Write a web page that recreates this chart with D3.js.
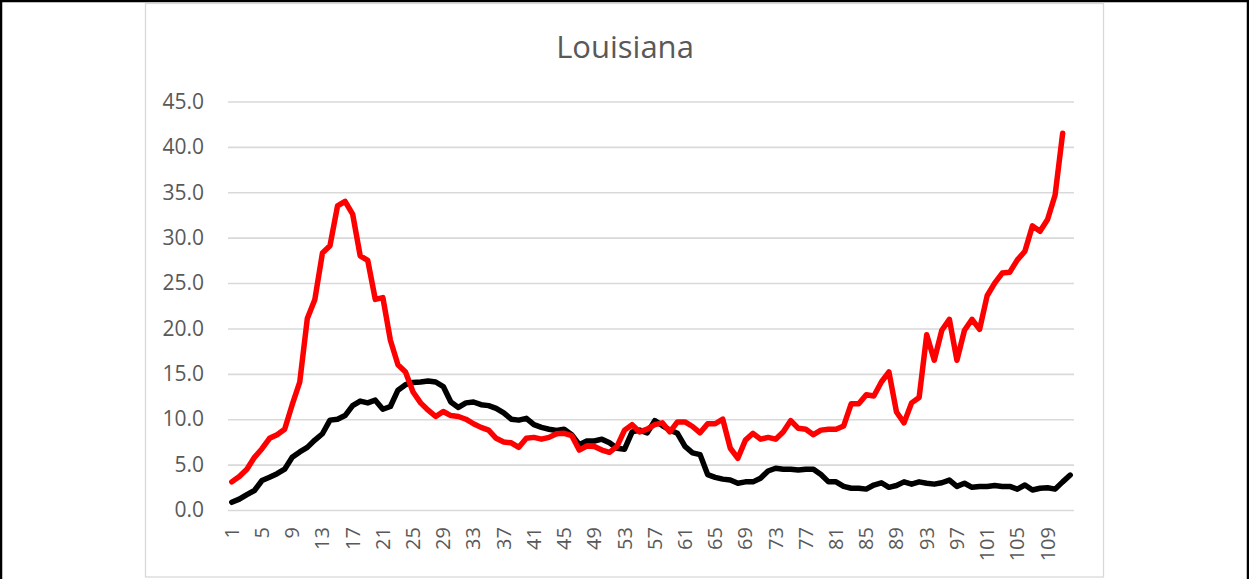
<!DOCTYPE html>
<html>
<head>
<meta charset="utf-8">
<script src="https://cdn.jsdelivr.net/npm/d3@7"></script>
<style>
  body { margin: 0; background: #fff; }
  svg { display: block; }
  .tick text { fill: #595959; font-family: 'Open Sans', sans-serif; }
</style>
</head>
<body>
<svg width="1249" height="579"></svg>
<script>
(function (d3) {
  'use strict';

  const title = 'Louisiana';

  // red series (111 points)
  const redSeries = [
    3.1, 3.7, 4.5, 5.8, 6.75, 7.9, 8.3, 8.9, 11.6, 14.1,
    21.1, 23.2, 28.3, 29.1, 33.5, 34.0, 32.6, 28.0, 27.5, 23.2,
    23.4, 18.7, 16.0, 15.2, 13.0, 11.8, 11.0, 10.3, 10.85, 10.4,
    10.3, 10.0, 9.5, 9.1, 8.8, 7.9, 7.5, 7.4, 6.9, 7.9,
    8.0, 7.8, 8.0, 8.4, 8.45, 8.2, 6.6, 7.05, 7.0, 6.6,
    6.35, 7.0, 8.8, 9.4, 8.6, 8.9, 9.4, 9.6, 8.6, 9.7,
    9.7, 9.2, 8.5, 9.5, 9.5, 10.0, 6.8, 5.7, 7.7, 8.45,
    7.8, 8.0, 7.8, 8.6, 9.85, 9.0, 8.9, 8.3, 8.8, 8.9,
    8.9, 9.25, 11.7, 11.7, 12.7, 12.55, 14.1, 15.2, 10.8, 9.6,
    11.8, 12.4, 19.3, 16.5, 19.8, 21.0, 16.5, 19.8, 21.0, 19.9,
    23.6, 25.0, 26.1, 26.2, 27.55, 28.5, 31.3, 30.7, 32.0, 34.7, 41.5
  ];

  // black series (112 points)
  const blackSeries = [
    0.85, 1.2, 1.7, 2.15, 3.25, 3.6, 4.0, 4.5, 5.8, 6.4,
    6.9, 7.7, 8.4, 9.9, 10.0, 10.4, 11.5, 12.0, 11.8, 12.1,
    11.1, 11.4, 13.2, 13.8, 14.05, 14.1, 14.2, 14.1, 13.6, 11.9,
    11.3, 11.8, 11.9, 11.6, 11.5, 11.2, 10.7, 10.0, 9.9, 10.1,
    9.4, 9.1, 8.9, 8.75, 8.9, 8.3, 7.2, 7.6, 7.6, 7.8,
    7.4, 6.8, 6.7, 8.6, 8.8, 8.5, 9.85, 9.3, 8.8, 8.45,
    7.0, 6.3, 6.1, 3.9, 3.6, 3.4, 3.3, 2.95, 3.1, 3.1,
    3.5, 4.3, 4.6, 4.5, 4.5, 4.4, 4.5, 4.5, 3.9, 3.1,
    3.1, 2.6, 2.4, 2.4, 2.3, 2.75, 3.0, 2.5, 2.7, 3.1,
    2.85, 3.1, 2.95, 2.85, 3.0, 3.3, 2.6, 2.95, 2.5, 2.6,
    2.6, 2.7, 2.6, 2.6, 2.3, 2.75, 2.2, 2.4, 2.45, 2.3, 3.1, 3.85
  ];

  const categories = d3.range(1, 113);
  const xTickLabels = categories.filter(d => (d - 1) % 4 === 0);
  const yTicks = [0, 5, 10, 15, 20, 25, 30, 35, 40, 45];

  const svg = d3.select('svg');
  const width = +svg.attr('width');

  // outer black border
  svg.append('rect')
    .attr('x', 1).attr('y', 1)
    .attr('width', width - 2).attr('height', 640)
    .attr('fill', 'none')
    .attr('stroke', '#000')
    .attr('stroke-width', 2.5);

  // chart frame
  svg.append('rect')
    .attr('x', 145.5).attr('y', 3.5)
    .attr('width', 958).attr('height', 573.5)
    .attr('fill', '#fff')
    .attr('stroke', '#d9d9d9')
    .attr('stroke-width', 1.3);

  svg.append('text')
    .attr('x', 625)
    .attr('y', 58)
    .attr('text-anchor', 'middle')
    .attr('fill', '#595959')
    .style('font-family', "'Open Sans', sans-serif")
    .style('font-size', '31px')
    .text(title);

  const xScale = d3.scaleBand()
    .domain(categories)
    .range([228, 1074]);

  const yScale = d3.scaleLinear()
    .domain([0, 45])
    .range([510, 101.5]);

  const xPos = i => xScale(categories[i]) + xScale.bandwidth() / 2;

  // gridlines + y labels
  const yAxis = svg.append('g')
    .attr('transform', 'translate(228,0)')
    .call(d3.axisLeft(yScale)
      .tickValues(yTicks)
      .tickSize(-846)
      .tickPadding(24)
      .tickFormat(d3.format('.1f')));
  yAxis.select('.domain').remove();
  yAxis.selectAll('.tick line')
    .attr('stroke', '#d9d9d9')
    .attr('stroke-width', 1.6);
  yAxis.selectAll('.tick text')
    .style('font-size', '21px');

  // x labels, rotated
  const xAxis = svg.append('g')
    .attr('transform', 'translate(0,510)')
    .call(d3.axisBottom(xScale)
      .tickValues(xTickLabels)
      .tickSize(0));
  xAxis.select('.domain').remove();
  xAxis.selectAll('.tick text')
    .style('font-size', '20px')
    .attr('text-anchor', 'end')
    .attr('transform', 'rotate(-90)')
    .attr('x', -17)
    .attr('y', 0)
    .attr('dy', '0.35em');

  const line = d3.line()
    .x((d, i) => xPos(i))
    .y(d => yScale(d));

  svg.append('path')
    .datum(blackSeries)
    .attr('d', line)
    .attr('fill', 'none')
    .attr('stroke', '#000')
    .attr('stroke-width', 5.5)
    .attr('stroke-linejoin', 'round')
    .attr('stroke-linecap', 'round');

  svg.append('path')
    .datum(redSeries)
    .attr('d', line)
    .attr('fill', 'none')
    .attr('stroke', '#ff0000')
    .attr('stroke-width', 5.5)
    .attr('stroke-linejoin', 'round')
    .attr('stroke-linecap', 'round');

}(d3));
</script>
</body>
</html>
